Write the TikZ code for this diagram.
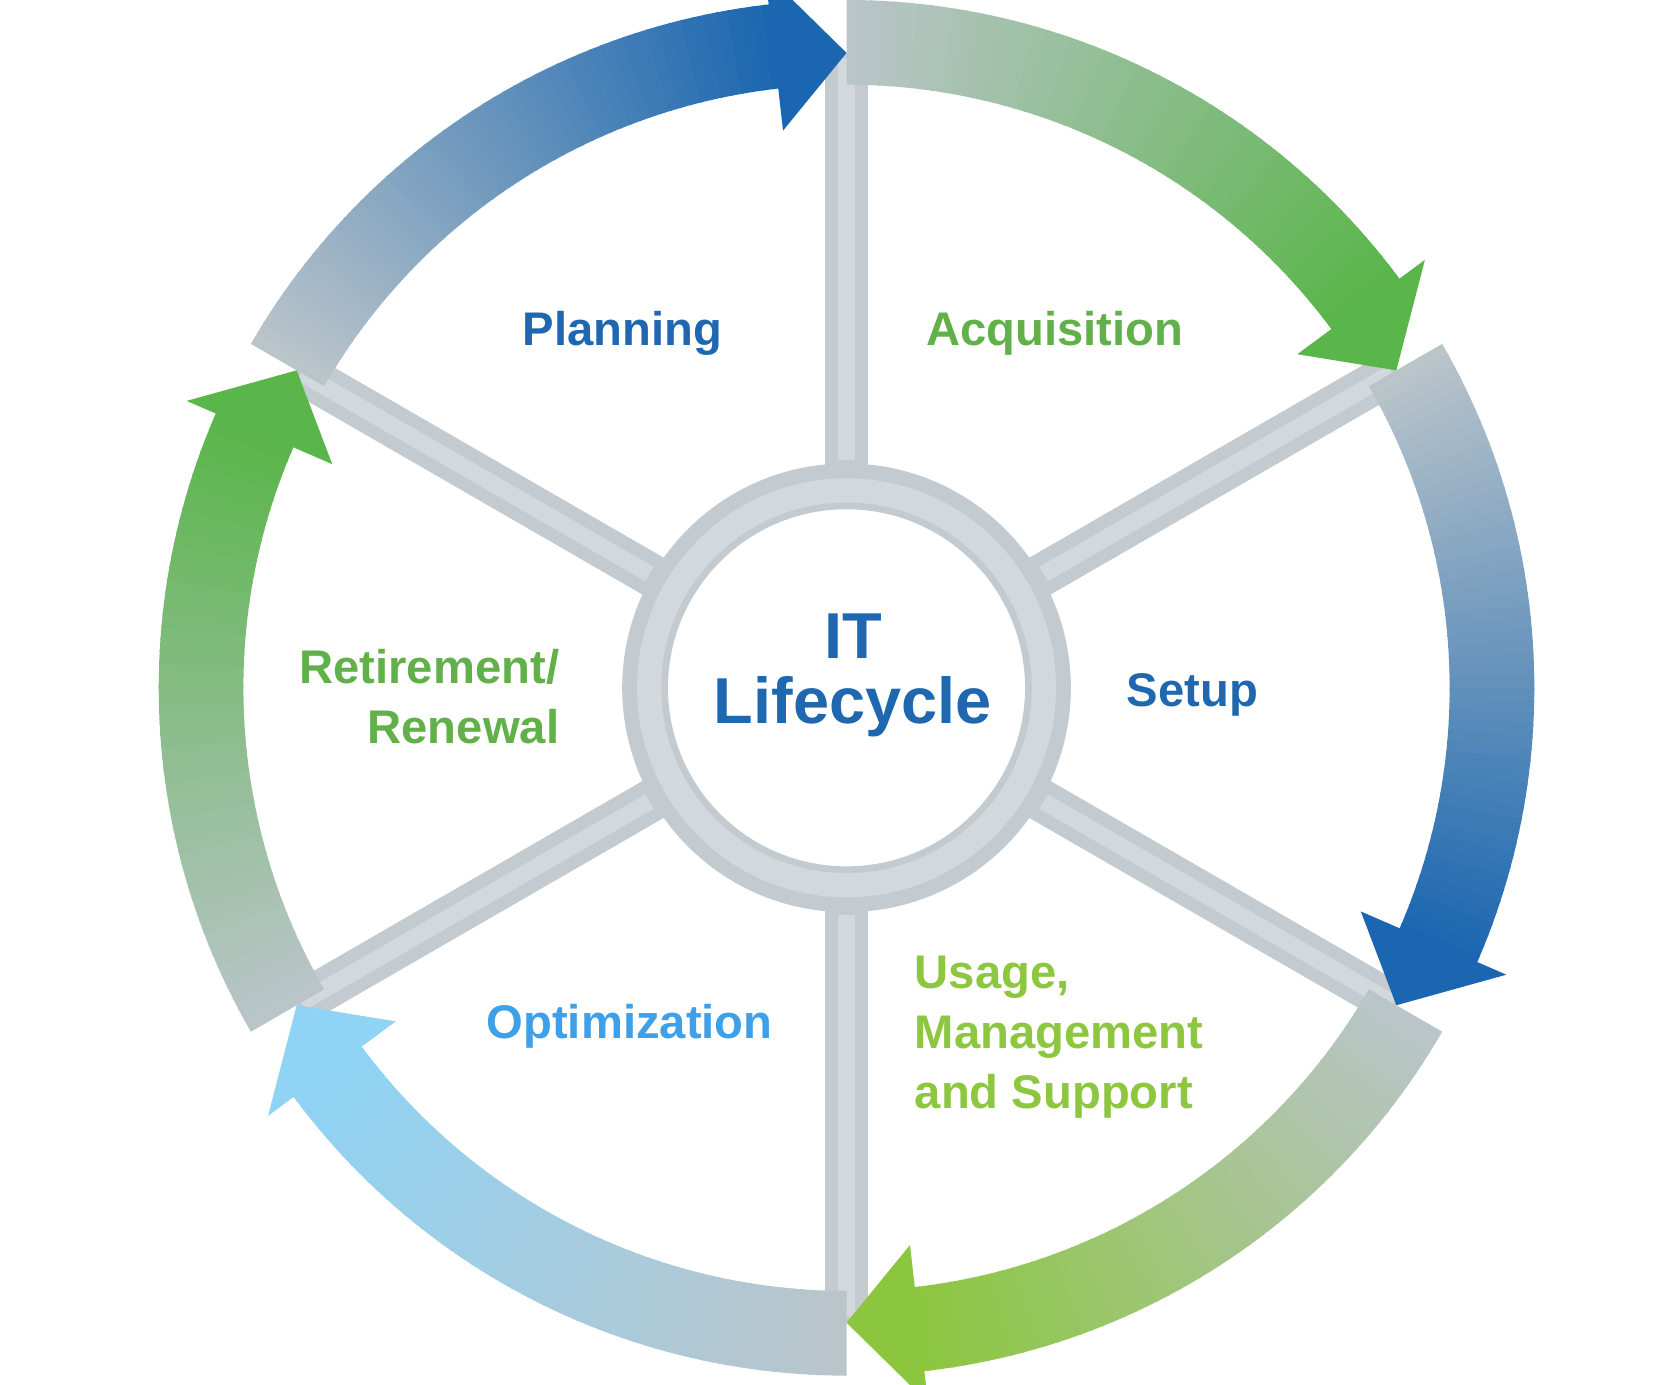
\documentclass[tikz,border=0pt]{standalone}
\usepackage{fontspec}
\setmainfont{Liberation Sans}
\definecolor{dblue}{HTML}{1A66B0}
\definecolor{grn}{HTML}{5AB54A}
\definecolor{lgrn}{HTML}{8CC63F}
\definecolor{lblue}{HTML}{8FD3F5}
\definecolor{gr}{HTML}{BAC5CA}
\definecolor{spk}{HTML}{C3CAD0}
\definecolor{spkin}{HTML}{D3D8DD}
\definecolor{tblue}{HTML}{1F68B0}
\definecolor{tgrn}{HTML}{62B04A}
\definecolor{tlgrn}{HTML}{8DC63F}
\definecolor{tlblue}{HTML}{3EA0E8}
\begin{document}
\begin{tikzpicture}[x=0.0189cm,y=0.0189cm,
  lbl/.style={font=\bfseries\fontsize{24}{30.5}\selectfont}]
\useasboundingbox (-800,-658) rectangle (765,650);
\fill[white] (-800,-658) rectangle (765,650);
% spokes
\foreach \a in {90,30,-30,-90,-150,150}{
  \draw[spk,line width=0.76cm] (\a:200) -- (\a:600);
  \draw[spkin,line width=0.3cm] (\a:215) -- (\a:595);
}
% hub
\fill[spk] (0,0) circle (212);
\fill[spkin] (0,0) circle (198);
\node[circle,fill=white,draw=spk,line width=0.12cm,minimum size=6.5cm] (hub) at (0,0) {};
% arrows
\foreach \s/\c in {150/dblue,90/grn,30/dblue,-30/lgrn,-90/lblue,-150/grn}{
  \foreach \i in {0,...,53}{
    \pgfmathsetmacro{\p}{100*\i/53}
    \pgfmathsetmacro{\aa}{\s-\i}
    \pgfmathsetmacro{\bb}{\s-\i-1.2}
    \fill[\c!\p!gr] (\aa:570) arc[start angle=\aa,end angle=\bb,radius=570]
      -- (\bb:650) arc[start angle=\bb,end angle=\aa,radius=650] -- cycle;
  }
  \pgfmathsetmacro{\hb}{\s-53.5}
  \pgfmathsetmacro{\ht}{\s-60}
  \fill[\c] (\hb:530) -- (\hb:680) -- (\ht:600) -- cycle;
}
% labels
\node[lbl,text=tblue] (pl) at (-212,335) {Planning};
\node[lbl,text=tgrn] (ac) at (197,335) {Acquisition};
\node[lbl,text=tblue] (se) at (327,-7) {Setup};
\node[lbl,text=tlgrn,align=left,anchor=west] (us) at (58,-330) {Usage,\\Management\\and Support};
\node[lbl,text=tlblue] (op) at (-205,-320) {Optimization};
\node[lbl,text=tgrn,align=right,anchor=east] (re) at (-265,-8) {Retirement/\\Renewal};
\node[font=\bfseries\fontsize{33}{33}\selectfont,text=tblue,align=center] (it) at (6,12) {IT\\Lifecycle};
\end{tikzpicture}
\end{document}
